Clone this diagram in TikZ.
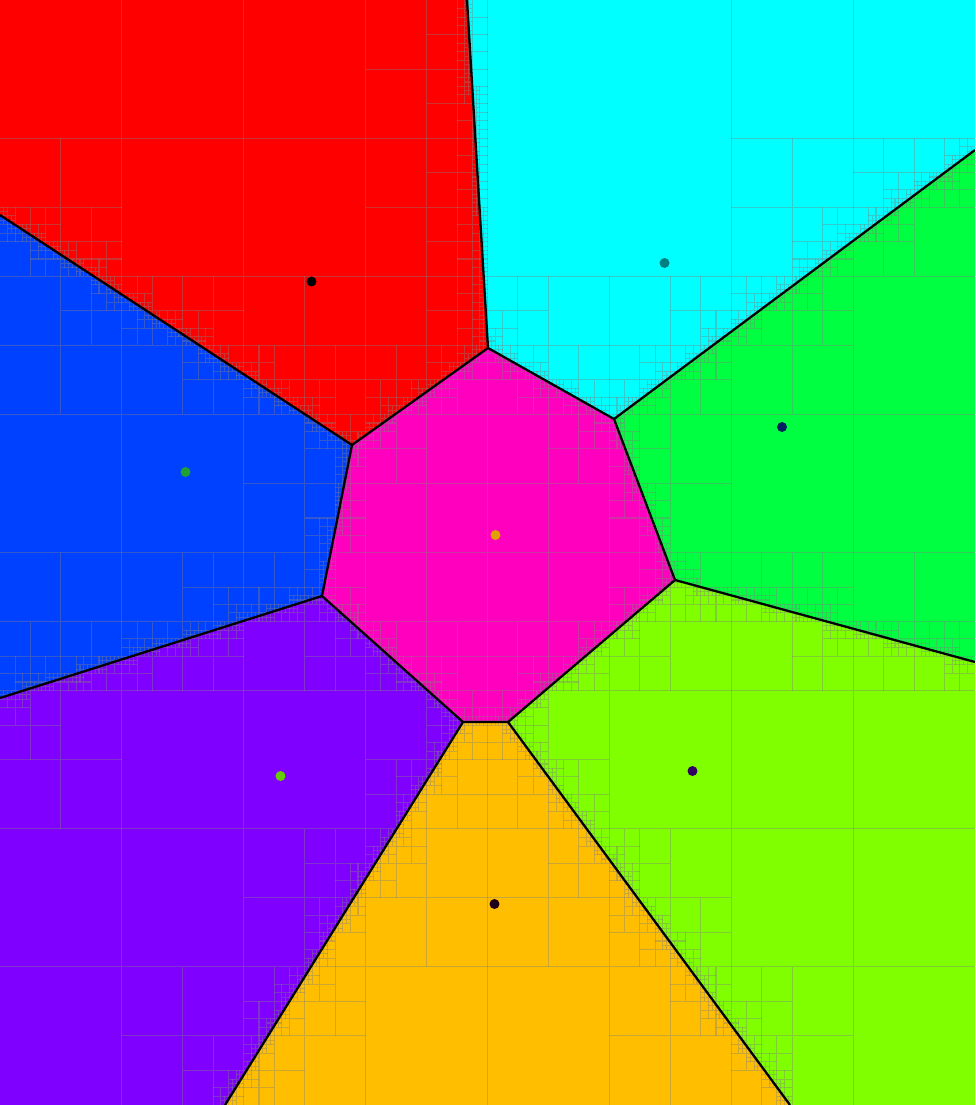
\documentclass[tikz,border=0pt]{standalone}
\usetikzlibrary{calc}

\definecolor{cellred}{RGB}{255,0,0}
\definecolor{cellorange}{RGB}{255,191,0}
\definecolor{celllime}{RGB}{128,255,0}
\definecolor{cellgreen}{RGB}{0,255,64}
\definecolor{cellcyan}{RGB}{0,255,255}
\definecolor{cellblue}{RGB}{0,64,255}
\definecolor{cellpurple}{RGB}{128,0,255}
\definecolor{cellmagenta}{RGB}{255,0,191}

\definecolor{sitered}{RGB}{0,0,0}
\definecolor{sitecyan}{RGB}{0,128,128}
\definecolor{sitegreen}{RGB}{0,32,96}
\definecolor{siteblue}{RGB}{32,160,48}
\definecolor{sitemagenta}{RGB}{224,160,0}
\definecolor{sitepurple}{RGB}{102,204,0}
\definecolor{sitelime}{RGB}{48,0,96}
\definecolor{siteorange}{RGB}{32,0,24}

% quadtree: split a cell while an edge crosses it
\newif\ifqthit
\newdimen\qtdim
\def\qtsegs{}
\def\qtmaxdepth{8}

\newcommand\qtaddseg[2]{%
  \pgfextractx{\qtdim}{\pgfpointanchor{#1}{center}}\pgfmathsetmacro\qtxa{\qtdim/28.452756}%
  \pgfextracty{\qtdim}{\pgfpointanchor{#1}{center}}\pgfmathsetmacro\qtya{-\qtdim/28.452756}%
  \pgfextractx{\qtdim}{\pgfpointanchor{#2}{center}}\pgfmathsetmacro\qtxb{\qtdim/28.452756}%
  \pgfextracty{\qtdim}{\pgfpointanchor{#2}{center}}\pgfmathsetmacro\qtyb{-\qtdim/28.452756}%
  \pgfmathsetmacro\qta{\qtyb-\qtya}%
  \pgfmathsetmacro\qtb{\qtxa-\qtxb}%
  \pgfmathsetmacro\qtc{-\qta*\qtxa-\qtb*\qtya}%
  \pgfmathsetmacro\qtxl{min(\qtxa,\qtxb)}\pgfmathsetmacro\qtxr{max(\qtxa,\qtxb)}%
  \pgfmathsetmacro\qtyl{min(\qtya,\qtyb)}\pgfmathsetmacro\qtyr{max(\qtya,\qtyb)}%
  \xdef\qtsegs{\unexpanded\expandafter{\qtsegs}%
    \noexpand\qtseg{\qtxl}{\qtxr}{\qtyl}{\qtyr}{\qta}{\qtb}{\qtc}}%
}

\newcommand\qtseg[7]{%
  \ifqthit\else
    \ifdim#1pt>\qtxe pt\else
    \ifdim#2pt<\qtxs pt\else
    \ifdim#3pt>\qtye pt\else
    \ifdim#4pt<\qtys pt\else
      \pgfmathparse{abs(#5*\qtcx+#6*\qtcy+#7)-0.5*(abs(#5)*\qtw+abs(#6)*\qth)}%
      \ifdim\pgfmathresult pt<0pt \global\qthittrue\fi
    \fi\fi\fi\fi
  \fi}

\newcommand\qtcell[5]{% left, top, width, height, depth
  \ifnum#5<\qtmaxdepth
    \def\qtxs{#1}\def\qtys{#2}\def\qtw{#3}\def\qth{#4}%
    \pgfmathsetmacro\qtxe{#1+#3}\pgfmathsetmacro\qtye{#2+#4}%
    \pgfmathsetmacro\qtcx{#1+#3/2}\pgfmathsetmacro\qtcy{#2+#4/2}%
    \global\qthitfalse\qtsegs
    \ifqthit
      \draw[quad] (\qtcx,#2) -- (\qtcx,\qtye) (#1,\qtcy) -- (\qtxe,\qtcy);
      \pgfmathsetmacro\qtw{#3/2}\pgfmathsetmacro\qth{#4/2}%
      \edef\qtnext{%
        \noexpand\qtcell{#1}{#2}{\qtw}{\qth}{\the\numexpr#5+1\relax}%
        \noexpand\qtcell{\qtcx}{#2}{\qtw}{\qth}{\the\numexpr#5+1\relax}%
        \noexpand\qtcell{#1}{\qtcy}{\qtw}{\qth}{\the\numexpr#5+1\relax}%
        \noexpand\qtcell{\qtcx}{\qtcy}{\qtw}{\qth}{\the\numexpr#5+1\relax}}%
      \qtnext
    \fi
  \fi}

\begin{document}
\begin{tikzpicture}[x=1cm, y=-1cm,
    quad/.style={draw=gray, line width=0.3pt, opacity=0.4},
    edge/.style={draw=black, line width=0.65pt, line join=round},
    site/.style={circle, inner sep=0pt, minimum size=1mm},
]
\useasboundingbox (0,0) rectangle (9.75,11.05);
\clip (0,0) rectangle (9.75,11.05);

% frame
\coordinate (tl) at (0,0);
\coordinate (tr) at (9.75,0);
\coordinate (br) at (9.75,11.05);
\coordinate (bl) at (0,11.05);

% where three cells meet
\coordinate (rcm) at (4.88,3.48);
\coordinate (rbm) at (3.52,4.45);
\coordinate (cgm) at (6.14,4.19);
\coordinate (glm) at (6.75,5.80);
\coordinate (lom) at (5.08,7.22);
\coordinate (opm) at (4.63,7.22);
\coordinate (pbm) at (3.22,5.96);

% where an edge leaves the frame
\coordinate (rc) at (4.67,0);
\coordinate (rb) at (0,2.15);
\coordinate (cg) at (9.75,1.50);
\coordinate (gl) at (9.75,6.62);
\coordinate (lo) at (7.90,11.05);
\coordinate (op) at (2.25,11.05);
\coordinate (bp) at (0,6.98);

\fill[cellred] (tl) -- (rc) -- (rcm) -- (rbm) -- (rb) -- cycle;
\fill[cellcyan] (rc) -- (tr) -- (cg) -- (cgm) -- (rcm) -- cycle;
\fill[cellgreen] (cgm) -- (cg) -- (gl) -- (glm) -- cycle;
\fill[celllime] (glm) -- (gl) -- (br) -- (lo) -- (lom) -- cycle;
\fill[cellorange] (lom) -- (lo) -- (op) -- (opm) -- cycle;
\fill[cellpurple] (opm) -- (op) -- (bl) -- (bp) -- (pbm) -- cycle;
\fill[cellblue] (rb) -- (rbm) -- (pbm) -- (bp) -- cycle;
\fill[cellmagenta] (rcm) -- (cgm) -- (glm) -- (lom) -- (opm) -- (pbm) -- (rbm) -- cycle;

% quadtree
\qtaddseg{rc}{rcm}
\qtaddseg{rb}{rbm}
\qtaddseg{rcm}{rbm}
\qtaddseg{rcm}{cgm}
\qtaddseg{cgm}{cg}
\qtaddseg{cgm}{glm}
\qtaddseg{glm}{gl}
\qtaddseg{glm}{lom}
\qtaddseg{lom}{opm}
\qtaddseg{lom}{lo}
\qtaddseg{opm}{op}
\qtaddseg{opm}{pbm}
\qtaddseg{pbm}{rbm}
\qtaddseg{pbm}{bp}
\qtcell{0}{0}{9.75}{11.05}{0}

% edges
\draw[edge] (rc) -- (rcm) -- (rbm) -- (rb);
\draw[edge] (rcm) -- (cgm) -- (glm) -- (lom) -- (opm) -- (pbm) -- (rbm);
\draw[edge] (cgm) -- (cg);
\draw[edge] (glm) -- (gl);
\draw[edge] (lom) -- (lo);
\draw[edge] (opm) -- (op);
\draw[edge] (pbm) -- (bp);

% sites
\node[site, fill=sitered] (sred) at (3.115,2.815) {};
\node[site, fill=sitecyan] (scyan) at (6.645,2.63) {};
\node[site, fill=sitegreen] (sgreen) at (7.82,4.27) {};
\node[site, fill=siteblue] (sblue) at (1.855,4.72) {};
\node[site, fill=sitemagenta] (smagenta) at (4.955,5.35) {};
\node[site, fill=sitepurple] (spurple) at (2.805,7.76) {};
\node[site, fill=sitelime] (slime) at (6.925,7.71) {};
\node[site, fill=siteorange] (sorange) at (4.945,9.04) {};

\end{tikzpicture}
\end{document}
